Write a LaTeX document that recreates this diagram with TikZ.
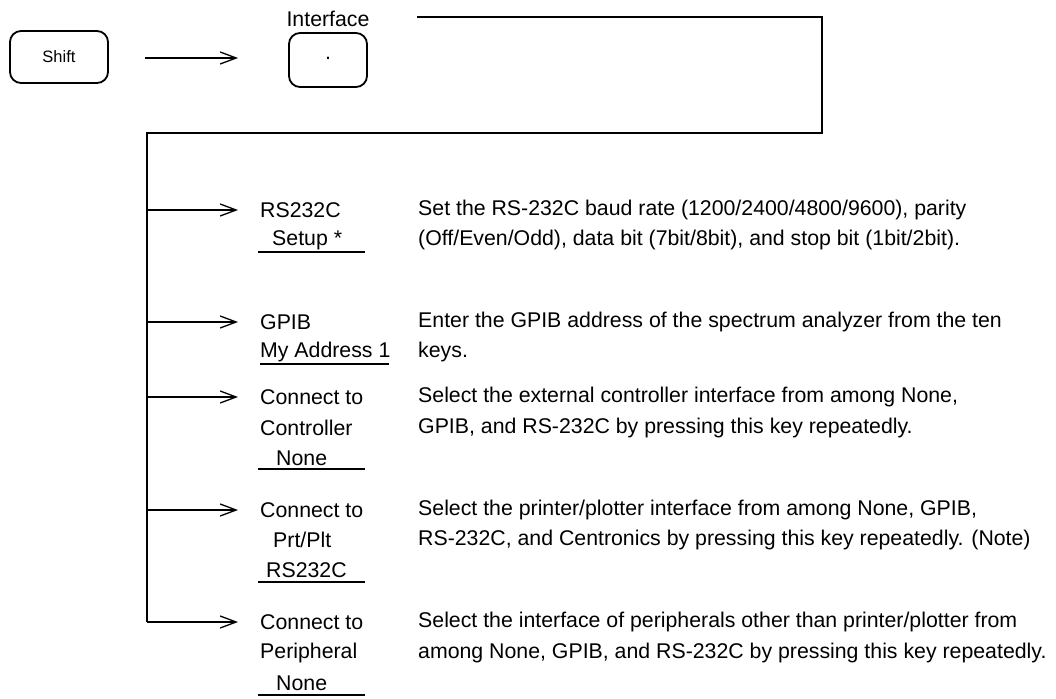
\documentclass[tikz,border=0pt]{standalone}
\usepackage{fontspec}
\setmainfont{Liberation Sans}
\usetikzlibrary{arrows.meta}
\begin{document}
\begin{tikzpicture}[x=1pt,y=-1pt,
  keybox/.style={draw,line width=1.8pt,rounded corners=11pt},
  wire/.style={line width=1.3pt},
  arr/.style={line width=1.3pt,-{Straight Barb[length=16pt,width=12pt,line width=1.3pt]}},
  lbl/.style={anchor=west,inner sep=0pt,font=\fontsize{21.3}{25}\selectfont},
  uline/.style={line width=1.3pt}]
\useasboundingbox (0,0) rectangle (1056,698);
% keys
\draw[keybox] (10,31) rectangle (108,83);
\node[lbl,anchor=center,font=\fontsize{16.5}{20}\selectfont] (shift) at (59,57) {Shift};
\draw[keybox] (289,33) rectangle (367,87);
\node[lbl,anchor=center] (dot) at (328,58) {.};
\node[lbl,anchor=center] (iface) at (328,19) {Interface};
\coordinate (a0s) at (145,58);
\coordinate (a0e) at (238,58);
\draw[arr] (a0s) -- (a0e);
% loop
\coordinate (tl) at (417,17);
\coordinate (tr) at (822,17);
\coordinate (br) at (822,133);
\coordinate (bl) at (147,133);
\coordinate (b1) at (147,210); \coordinate (t1) at (238,210);
\coordinate (b2) at (147,322); \coordinate (t2) at (238,322);
\coordinate (b3) at (147,397); \coordinate (t3) at (238,397);
\coordinate (b4) at (147,510); \coordinate (t4) at (238,510);
\coordinate (b5) at (147,622); \coordinate (t5) at (238,622);
\draw[wire] (tl) -- (tr) -- (br) -- (bl) -- (b5);
\foreach \i in {1,...,5} {\draw[arr] (b\i) -- (t\i);}
% labels
\node[lbl] (l1a) at (260,210) {RS232C};
\node[lbl] (l1b) at (272,240) {Setup *};
\draw[uline] (258,252) -- (365,252);
\node[lbl] (l2a) at (260,322) {GPIB};
\node[lbl] (l2b) at (260,352) {My Address 1};
\draw[uline] (260,364) -- (389,364);
\node[lbl] (l3a) at (260,397) {Connect to};
\node[lbl] (l3b) at (260,428) {Controller};
\node[lbl] (l3c) at (276,458) {None};
\draw[uline] (258,469) -- (365,469);
\node[lbl] (l4a) at (260,510) {Connect to};
\node[lbl] (l4b) at (273,540) {Prt/Plt};
\node[lbl] (l4c) at (266,570) {RS232C};
\draw[uline] (258,582) -- (365,582);
\node[lbl] (l5a) at (260,622) {Connect to};
\node[lbl] (l5b) at (260,653) {Peripheral};
\node[lbl] (l5c) at (276,683) {None};
\draw[uline] (258,695) -- (365,695);
% descriptions
\node[lbl] (d1a) at (418,210) {Set the RS-232C baud rate (1200/2400/4800/9600), parity};
\node[lbl] (d1b) at (418,240) {(Off/Even/Odd), data bit (7bit/8bit), and stop bit (1bit/2bit).};
\node[lbl] (d2a) at (418,322) {Enter the GPIB address of the spectrum analyzer from the ten};
\node[lbl] (d2b) at (418,352) {keys.};
\node[lbl] (d3a) at (418,397) {Select the external controller interface from among None,};
\node[lbl] (d3b) at (418,428) {GPIB, and RS-232C by pressing this key repeatedly.};
\node[lbl] (d4a) at (418,510) {Select the printer/plotter interface from among None, GPIB,};
\node[lbl] (d4b) at (418,540) {RS-232C, and Centronics by pressing this key repeatedly. (Note)};
\node[lbl] (d5a) at (418,622) {Select the interface of peripherals other than printer/plotter from};
\node[lbl] (d5b) at (418,653) {among None, GPIB, and RS-232C by pressing this key repeatedly.};
\end{tikzpicture}
\end{document}
